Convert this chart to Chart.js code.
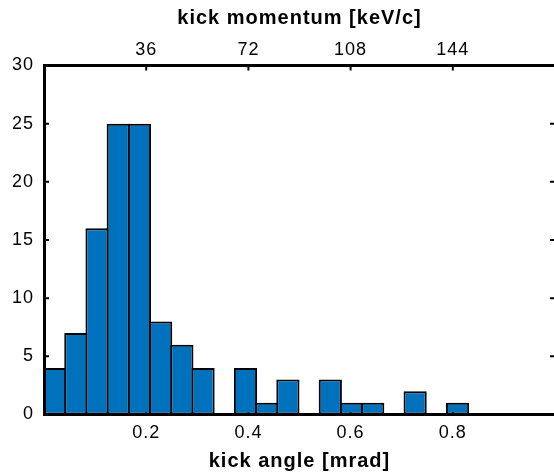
<!DOCTYPE html>
<html>
<head>
<meta charset="utf-8">
<script src="https://cdn.jsdelivr.net/npm/chart.js@4"></script>
<style>
  html, body { margin: 0; padding: 0; background: #fff; overflow: hidden; }
  canvas { display: block; }
</style>
</head>
<body>
<canvas id="hist" width="560" height="475" style="width:560px;height:475px"></canvas>
<script>
// histogram bin centres, kick angle [mrad]
const binCenters = [0.0208, 0.0623, 0.1038, 0.1453, 0.1868, 0.2283, 0.2698, 0.3113, 0.3528, 0.3943,
                    0.4358, 0.4773, 0.5188, 0.5603, 0.6018, 0.6433, 0.6848, 0.7263, 0.7678, 0.8093];
const counts = [4, 7, 16, 25, 25, 8, 6, 4, 0, 4, 1, 3, 0, 3, 1, 1, 0, 2, 0, 1];

const angleTicks = [0.2, 0.4, 0.6, 0.8];
const momentumTicks = [36, 72, 108, 144];
const countTicks = [0, 5, 10, 15, 20, 25, 30];

const angleMax = 1;       // mrad
const momentumMax = 180;  // keV/c at angleMax
const countMax = 30;

Chart.defaults.font.family = '"Liberation Sans", Arial, Helvetica, sans-serif';
Chart.defaults.font.size = 18;
Chart.defaults.color = '#000';

// matlab style: ticks point into the axes box
const inwardTicks = {
  id: 'inwardTicks',
  beforeDatasetsDraw(chart) {
    const { ctx, chartArea: a, scales } = chart;
    const len = 5;
    ctx.save();
    ctx.strokeStyle = '#000';
    ctx.lineWidth = 2;
    ctx.beginPath();
    countTicks.forEach(v => {
      const y = scales.y.getPixelForValue(v);
      ctx.moveTo(a.left, y); ctx.lineTo(a.left + len, y);
      ctx.moveTo(a.right, y); ctx.lineTo(a.right - len, y);
    });
    angleTicks.forEach(v => {
      const x = scales.x.getPixelForValue(v);
      ctx.moveTo(x, a.bottom); ctx.lineTo(x, a.bottom - len);
    });
    momentumTicks.forEach(v => {
      const x = scales.x2.getPixelForValue(v);
      ctx.moveTo(x, a.top); ctx.lineTo(x, a.top + len);
    });
    ctx.stroke();
    ctx.restore();
  }
};

const spacing = {
  id: 'spacing',
  beforeDraw(chart) { chart.ctx.letterSpacing = '1px'; }
};

const setTicks = list => scale => { scale.ticks = list.map(v => ({ value: v })); };
const axisBorder = { display: true, color: '#000', width: 3, z: 1 };
const noGrid = { display: false, drawTicks: false };
const titleFont = { size: 20, weight: 'bold' };

new Chart(document.getElementById('hist'), {
  type: 'bar',
  data: {
    datasets: [{
      data: binCenters.map((x, i) => ({ x: x, y: counts[i] })),
      backgroundColor: '#0072BD',
      borderColor: '#000',
      borderWidth: 2,
      borderSkipped: false,
      barPercentage: 1.094,
      categoryPercentage: 1
    }]
  },
  options: {
    responsive: false,
    devicePixelRatio: 1,
    animation: false,
    layout: { padding: 0 },
    plugins: { legend: { display: false }, tooltip: { enabled: false } },
    scales: {
      x: {
        type: 'linear', position: 'bottom', min: 0, max: angleMax, offset: false,
        grid: noGrid, border: axisBorder,
        afterBuildTicks: setTicks(angleTicks),
        afterFit: s => { s.height = 60.5; },
        ticks: { padding: 8, autoSkip: false, maxRotation: 0 },
        title: { display: true, text: 'kick angle [mrad]', font: titleFont, padding: { top: 0, bottom: 2 } }
      },
      x2: {
        type: 'linear', axis: 'x', position: 'top', min: 0, max: momentumMax, offset: false,
        grid: noGrid, border: axisBorder,
        afterBuildTicks: setTicks(momentumTicks),
        afterFit: s => { s.height = 65.5; },
        ticks: { padding: 4.5, autoSkip: false, maxRotation: 0 },
        title: { display: true, text: 'kick momentum [keV/c]', font: titleFont, padding: { top: 6, bottom: 0 } }
      },
      y: {
        type: 'linear', position: 'left', min: 0, max: countMax,
        grid: noGrid, border: axisBorder,
        afterBuildTicks: setTicks(countTicks),
        afterFit: s => { s.width = 44; },
        ticks: { padding: 10, autoSkip: false }
      },
      y2: {
        type: 'linear', axis: 'y', position: 'right', min: 0, max: countMax,
        grid: noGrid, border: axisBorder,
        ticks: { display: false },
        afterFit: s => { s.width = 5; }
      }
    }
  },
  plugins: [inwardTicks, spacing]
});
</script>
</body>
</html>
